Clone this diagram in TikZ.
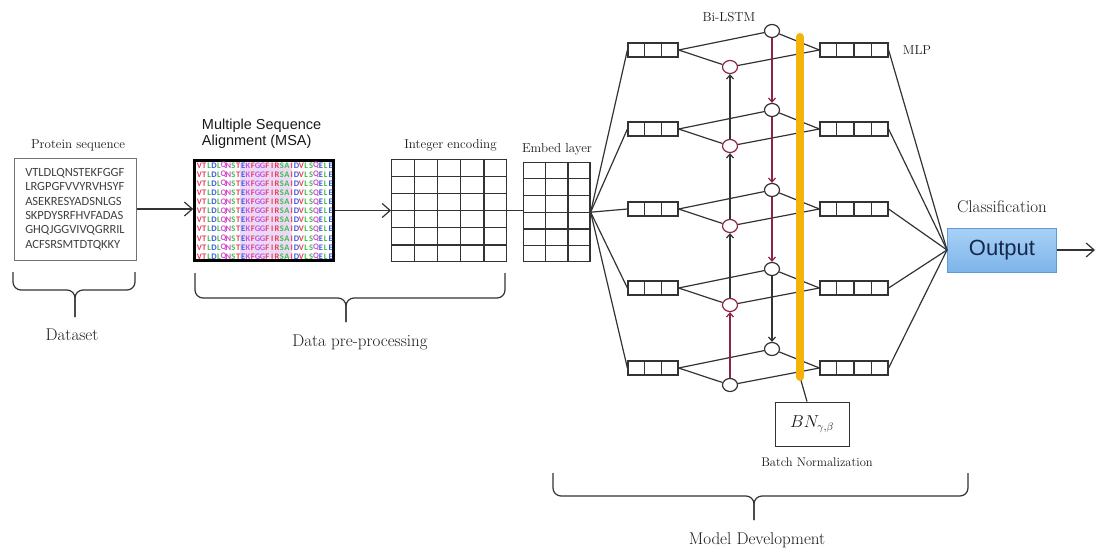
\documentclass[tikz,border=0pt]{standalone}
\usepackage{amsmath}
\usepackage{fontspec}
\setsansfont{Liberation Sans}
\newfontfamily\seqfont{Carlito}
\usepackage{tikz}
\usetikzlibrary{arrows,arrows.meta,positioning,calc,shapes.geometric}

\definecolor{linegray}{HTML}{333333}
\definecolor{lstmred}{HTML}{8E2443}
\definecolor{bngold}{HTML}{F5B30A}
\definecolor{outtop}{HTML}{A9D1F7}
\definecolor{outbot}{HTML}{7DB4EA}
\definecolor{outdraw}{HTML}{5A9BD8}
\definecolor{outtext}{HTML}{14284B}
\definecolor{msaband}{HTML}{EBD9F6}
% residue colours in the alignment
\definecolor{aaV}{HTML}{E8405C}
\definecolor{aaT}{HTML}{E8405C}
\definecolor{aaI}{HTML}{E8405C}
\definecolor{aaF}{HTML}{E8405C}
\definecolor{aaR}{HTML}{E8405C}
\definecolor{aaL}{HTML}{3DBE4A}
\definecolor{aaA}{HTML}{3DBE4A}
\definecolor{aaS}{HTML}{3DBE4A}
\definecolor{aaD}{HTML}{3A58E0}
\definecolor{aaE}{HTML}{3A58E0}
\definecolor{aaK}{HTML}{C455E6}
\definecolor{aaG}{HTML}{C455E6}
\definecolor{aaQ}{HTML}{D24FC8}
\definecolor{aaN}{HTML}{D24FC8}

% x1, x2, top, bar height, tip x, tip y
\newcommand{\stagebrace}[6]{%
  \draw[rounded corners=8pt] ({#1},{#3}) -- ({#1},{#4}) -- ({#5},{#4}) -- ({#5},{#6});
  \draw[rounded corners=8pt] ({#2},{#3}) -- ({#2},{#4}) -- ({#5},{#4}) -- ({#5},{#6});
}

\begin{document}
\begin{tikzpicture}[x=1pt, y=-1pt, line width=1.2pt, color=linegray]
\tikzstyle{lbl}=[text=black!90, font=\fontsize{13}{15}\selectfont]
\tikzstyle{biglbl}=[text=black!90, font=\fontsize{17}{20}\selectfont]
\tikzstyle{gridbox}=[draw, rectangle, inner sep=0pt]
\tikzstyle{vecbox}=[draw, rectangle, minimum height=14pt, inner sep=0pt]
\tikzstyle{cellnode}=[draw, ellipse, minimum width=15pt, minimum height=13pt, inner sep=0pt, fill=white]
\tikzstyle{bigarrow}=[-{Straight Barb[length=8pt,width=14pt]}]
\tikzstyle{smallarrow}=[-{Straight Barb[length=4pt,width=7pt]}]
\tikzstyle{residue}=[inner sep=0pt, font=\seqfont\bfseries\fontsize{8.5}{9}\selectfont]
\tikzstyle{outbox}=[draw=outdraw, line width=1pt, top color=outtop, bottom color=outbot, text=outtext, minimum width=109pt, minimum height=44pt, font=\sffamily\fontsize{22}{24}\selectfont]
\useasboundingbox (0,0) rectangle (1096,554);

% dataset
\node[draw=black!55, line width=1pt, minimum width=122pt, minimum height=102pt, align=left, inner sep=0pt, font=\seqfont\fontsize{12.5}{14.4}\selectfont, text=black!75] (seq) at (75,209) {VTLDLQNSTEKFGGF\\LRGPGFVVYRVHSYF\\ASEKRESYADSNLGS\\SKPDYSRFHVFADAS\\GHQJGGVIVQGRRIL\\ACFSRSMTDTQKKY};
\node[lbl] (seqlbl) at (78,145) {Protein sequence};

% alignment
\fill[msaband] (240,163) rectangle (292,258);
\node[draw=black, line width=2.5pt, minimum width=139pt, minimum height=100pt, inner sep=0pt] (msa) at (264,210.5) {};
\foreach \r in {0,...,10}
  \foreach \aa [count=\k] in {V,T,L,D,L,Q,N,S,T,E,K,F,G,G,F,I,R,S,A,I,D,V,L,S,Q,E,L,E}
    \node[residue, text=aa\aa] (msa-\r-\k) at ({194.5+\k*4.86},{165.5+\r*9.1}) {\aa};
\node[align=left, anchor=west, text=black!90, font=\sffamily\fontsize{14.5}{16.5}\selectfont] (msalbl) at (198,134) {Multiple Sequence\\Alignment (MSA)};

% encodings
\node[gridbox, minimum width=115pt, minimum height=102pt] (intgrid) at (449.2,210.5) {};
\foreach \k in {1,...,4}
  \draw ($(intgrid.north west)!\k/5!(intgrid.north east)$) -- ($(intgrid.south west)!\k/5!(intgrid.south east)$);
\foreach \k in {1,...,5}
  \draw ($(intgrid.north west)!\k/6!(intgrid.south west)$) -- ($(intgrid.north east)!\k/6!(intgrid.south east)$);
\node[lbl] (intlbl) at (450.5,145) {Integer encoding};

\node[gridbox, minimum width=66.7pt, minimum height=99pt] (emb) at (556.7,212.2) {};
\foreach \k in {1,2}
  \draw ($(emb.north west)!\k/3!(emb.north east)$) -- ($(emb.south west)!\k/3!(emb.south east)$);
\foreach \k in {1,...,5}
  \draw ($(emb.north west)!\k/6!(emb.south west)$) -- ($(emb.north east)!\k/6!(emb.south east)$);
\node[lbl] (emblbl) at (557,149) {Embed layer};

\draw[bigarrow] (seq.east) -- (seq.east -| msa.west);
\draw[bigarrow] (msa.east) -- (msa.east -| intgrid.west);
\draw (intgrid.east) -- (intgrid.east -| emb.west);

% Bi-LSTM
\foreach \i/\c/\fc in {1/50/lstmred,2/129/lstmred,3/209/lstmred,4/288/lstmred,5/368/linegray} {
  \node[vecbox, minimum width=50pt] (in\i) at (653,\c) {};
  \node[vecbox, minimum width=68pt] (mlp\i) at (854,\c) {};
  \node[cellnode, draw=\fc] (f\i) at (730,{\c+17}) {};
  \node[cellnode] (b\i) at (772,{\c-19}) {};
}
\foreach \i in {1,...,5} {
  \foreach \k in {1,2}
    \draw ($(in\i.north west)!\k/3!(in\i.north east)$) -- ($(in\i.south west)!\k/3!(in\i.south east)$);
  \foreach \k in {1,2,3}
    \draw ($(mlp\i.north west)!\k/4!(mlp\i.north east)$) -- ($(mlp\i.south west)!\k/4!(mlp\i.south east)$);
  \draw (emb.east) -- (in\i.west);
  \draw (in\i.east) -- (b\i);
  \draw (in\i.east) -- (f\i);
  \draw (f\i) -- (mlp\i.west);
  \draw (b\i) -- (mlp\i.west);
}
\draw[smallarrow, lstmred] (f5) -- (f4);
\draw[smallarrow] (f4) -- (f3);
\draw[smallarrow] (f3) -- (f2);
\draw[smallarrow] (f2) -- (f1);
\draw[smallarrow, lstmred] (b1) -- (b2);
\draw[smallarrow, lstmred] (b2) -- (b3);
\draw[smallarrow, lstmred] (b3) -- (b4);
\draw[smallarrow] (b4) -- (b5);
\node[lbl] (lstmlbl) at (729,17) {Bi-LSTM};
\node[lbl] (mlplbl) at (917,50) {MLP};

% batch normalization
\coordinate (barTop) at (800,37);
\coordinate (barBot) at (800,377);
\node[draw, line width=1pt, minimum width=74pt, minimum height=44pt, text=black!90, font=\fontsize{16}{18}\selectfont] (bn) at (812,424) {$BN_{\gamma,\beta}$};
\draw (barBot) -- ([xshift=-5pt]bn.north);
\draw[bngold, line width=8pt, line cap=round] (barTop) -- (barBot);
\node[text=black!90, font=\fontsize{12.5}{14}\selectfont] (bnlbl) at (817,462) {Batch Normalization};

% output
\node[outbox] (out) at (1002,250) {Output};
\node[biglbl] (clslbl) at (1002,206.5) {Classification};
\foreach \i in {1,...,5}
  \draw (mlp\i.east) -- (out.west);
\coordinate (outEnd) at (1095,250);
\draw[bigarrow] (out.east) -- (outEnd);

% stages
\stagebrace{13}{135}{272}{290}{75}{317}
\stagebrace{195}{505}{273}{298}{346}{322}
\stagebrace{553}{968}{473}{496}{754}{520}
\node[biglbl] (dslbl) at (72,335) {Dataset};
\node[biglbl] (pplbl) at (360,342) {Data pre-processing};
\node[biglbl] (mdlbl) at (757,540) {Model Development};
\end{tikzpicture}
\end{document}
